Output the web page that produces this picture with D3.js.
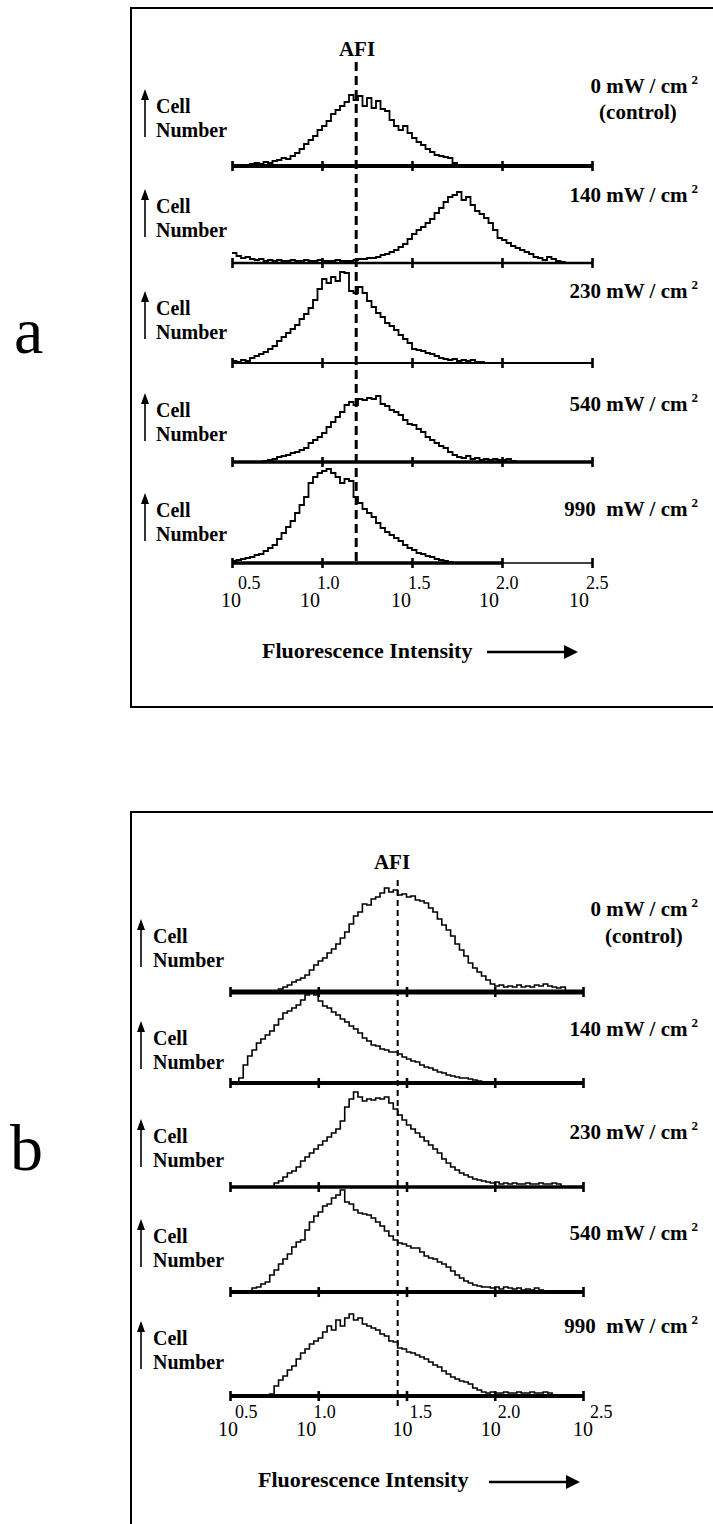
<!DOCTYPE html>
<html><head><meta charset="utf-8">
<script src="https://cdn.jsdelivr.net/npm/d3@7"></script>
<style>
body{margin:0;background:#fff;}
svg{display:block;}
text{font-family:"Liberation Serif","Times New Roman",serif;fill:#000;}
</style></head><body>
<svg id="chart" width="713" height="1524"></svg>
<script>
// ---------------- DATA ----------------
const tickValues = [0.5, 1.0, 1.5, 2.0, 2.5];
const tickLabels = ["0.5", "1.0", "1.5", "2.0", "2.5"];
const tickBase = "10";
const doseLabels = ["0 mW / cm", "140 mW / cm", "230 mW / cm", "540 mW / cm", "990  mW / cm"];
const doseUnitExp = "2";
const controlNote = "(control)";
const axisTitle = "Fluorescence Intensity";
const cellLabel = ["Cell", "Number"];
const afiLabel = "AFI";
const panelNames = ["a", "b"];
const binWidth = 0.025;          // log10 channel width
const afiA = 1.19;               // log10 AFI, panel a
const afiB = 1.45;               // log10 AFI, panel b

// panel a histograms: first channel (log10) + counts per channel
const a1Start = 0.5;
const a1 = [0,1,0,1,2,3,2,4,3,5,6,8,7,10,13,17,22,26,30,36,40,45,52,56,60,64,71,66,70,60,68,58,65,57,55,46,40,36,40,33,28,24,21,17,14,11,10,9,8,3,0];
const a2Start = 0.5;
const a2 = [10,7,5,6,4,3,4,2,3,2,3,2,2,3,2,2,3,2,2,3,2,2,2,3,2,2,2,3,4,4,5,5,6,8,9,11,13,16,19,24,29,33,36,40,44,50,55,61,66,68,71,63,66,58,52,49,45,40,33,25,23,20,17,15,13,11,9,6,5,3,6,4,2,1,0];
const a3Start = 0.5;
const a3 = [2,1,3,2,5,7,9,11,14,17,22,26,30,34,38,44,49,55,63,74,84,80,86,82,91,90,72,70,76,70,62,56,50,46,40,37,33,28,24,20,14,13,12,10,9,7,5,4,3,4,2,3,2,3,1,1,0];
const a4Start = 0.65;
const a4 = [0,1,2,3,5,6,7,9,10,12,14,19,22,25,29,35,40,45,50,57,60,57,63,62,64,63,66,58,56,52,50,47,42,38,37,33,30,25,22,19,16,14,10,7,5,4,6,3,4,2,3,2,3,2,2,3,1,0];
const a5Start = 0.5;
const a5 = [2,3,4,5,6,8,9,12,15,18,24,30,36,42,50,58,66,80,86,90,92,94,90,86,80,84,82,66,60,54,50,46,40,35,31,28,25,22,18,15,13,10,9,7,6,4,3,2,1,0];

// panel b histograms
const b1Start = 0.725;
const b1 = [0,1,3,5,7,10,12,14,17,22,27,31,34,39,43,48,54,60,68,76,80,88,87,93,95,99,104,100,102,97,98,95,96,92,91,89,84,80,73,67,62,56,48,42,36,29,24,20,16,12,8,6,7,5,6,5,7,5,6,5,7,6,8,6,5,4,5,0];
const b2Start = 0.525;
const b2 = [0,5,18,27,33,40,44,48,52,58,64,70,72,75,78,83,88,90,88,82,77,75,71,68,64,61,57,54,50,45,42,38,37,34,33,31,31,29,26,24,22,21,18,16,15,13,11,10,8,7,6,5,5,4,3,2,0];
const b3Start = 0.725;
const b3 = [0,4,6,10,14,16,20,26,30,34,38,42,46,50,54,58,66,80,88,95,90,86,88,87,89,88,90,84,78,72,67,62,58,54,50,46,42,38,34,28,24,20,17,14,12,10,8,7,6,5,4,5,3,4,3,4,3,3,4,3,3,4,3,3,4,3,0];
const b4Start = 0.6;
const b4 = [0,4,5,8,10,17,22,28,33,38,45,50,52,62,70,76,80,86,88,94,97,102,90,88,82,79,78,77,74,70,66,61,56,52,49,48,46,44,44,40,36,34,33,30,28,25,21,17,14,11,9,7,6,5,5,4,5,3,5,4,3,4,2,3,2,4,2,0];
const b5Start = 0.7;
const b5 = [0,2,10,16,20,26,30,37,43,47,52,55,58,64,70,66,76,70,78,82,76,78,72,70,68,66,62,60,55,54,48,47,44,43,41,39,37,34,31,29,25,22,19,17,15,14,12,8,6,4,3,4,3,3,4,3,3,4,3,3,4,3,3,4,3,0];

// ---------------- LAYOUT / STYLE ----------------
const layouts = [
  {
    name: panelNames[0], starts: [a1Start,a2Start,a3Start,a4Start,a5Start], series: [a1,a2,a3,a4,a5], afi: afiA,
    box: {x:131, y:8, h:699}, letter: {x:14, y:353},
    xRange: [232, 592], baselines: [166, 263, 363, 462, 563],
    axisW: [4, 2.6, 1.8, 3.6, 3.6], lastThinFrom: 2.0,
    doseY: [93, 202, 298, 411, 516], controlY: 119, controlX: 638, doseX: 698,
    cellY: [113, 213, 315, 417, 517], cellX: 156, arrowX: 145,
    afiY: 56, afiX: 357, dash: {y1: 62, y2: 565, w: 3, pat: "9,5"},
    tickY: 607, tickDx: [9, -2, -1, -3, -3],
    titleX: 262, titleY: 658, arrow: {x1: 487, x2: 578, y: 652},
    curveW: 1.8
  },
  {
    name: panelNames[1], starts: [b1Start,b2Start,b3Start,b4Start,b5Start], series: [b1,b2,b3,b4,b5], afi: afiB,
    box: {x:131, y:812, h:800}, letter: {x:10, y:1170},
    xRange: [230, 583], baselines: [992, 1083, 1187, 1292, 1396],
    axisW: [5, 4, 3.6, 4, 4], lastThinFrom: null,
    doseY: [916, 1036, 1139, 1240, 1333], controlY: 943, controlX: 644, doseX: 698,
    cellY: [943, 1045, 1143, 1243, 1345], cellX: 153, arrowX: 141,
    afiY: 869, afiX: 392, dash: {y1: 880, y2: 1407, w: 2, pat: "6,4"},
    tickY: 1436, tickDx: [8, -2, 6, 6, 10],
    titleX: 258, titleY: 1487, arrow: {x1: 489, x2: 580, y: 1482},
    curveW: 1.6
  }
];

const svg = d3.select("#chart");

layouts.forEach(L => {
  const g = svg.append("g");
  // frame
  g.append("rect").attr("x", L.box.x).attr("y", L.box.y)
    .attr("width", 700).attr("height", L.box.h)
    .attr("fill", "none").attr("stroke", "#000").attr("stroke-width", 2);
  // panel letter
  g.append("text").attr("x", L.letter.x).attr("y", L.letter.y)
    .attr("font-size", 66).text(L.name);

  const x = d3.scaleLinear().domain([tickValues[0], tickValues[tickValues.length-1]]).range(L.xRange);

  L.series.forEach((counts, i) => {
    const base = L.baselines[i];
    const y = d3.scaleLinear().domain([0, 100]).range([base, base - 100]);
    const pts = counts.map((c, k) => ({lx: L.starts[i] + k * binWidth, c}));

    // histogram trace
    const line = d3.line().x(d => x(d.lx)).y(d => y(d.c)).curve(d3.curveStepAfter);
    g.append("path").datum(pts).attr("d", line)
      .attr("fill", "none").attr("stroke", "#000")
      .attr("stroke-width", L.curveW).attr("stroke-linejoin", "miter");

    // axis
    const axis = d3.axisBottom(x).tickValues(tickValues).tickSize(0).tickFormat("");
    const ag = g.append("g").attr("transform", `translate(0,${base})`).call(axis);
    ag.select(".domain").remove();
    const thinFrom = (i === 4 && L.lastThinFrom) ? L.lastThinFrom : null;
    ag.append("line").attr("x1", x.range()[0]).attr("x2", thinFrom ? x(thinFrom) : x.range()[1])
      .attr("stroke", "#000").attr("stroke-width", L.axisW[i]);
    if (thinFrom) {
      ag.append("line").attr("x1", x(thinFrom)).attr("x2", x.range()[1])
        .attr("stroke", "#000").attr("stroke-width", 1.5);
    }
    ag.selectAll(".tick line").attr("y1", -5).attr("y2", 5)
      .attr("stroke", "#000").attr("stroke-width", 2.6);

    // dose label
    const t = g.append("text").attr("x", L.doseX).attr("y", L.doseY[i])
      .attr("text-anchor", "end").attr("font-weight", "bold").attr("font-size", 21)
      .style("white-space", "pre");
    t.append("tspan").text(doseLabels[i]);
    t.append("tspan").attr("dx", 4).attr("dy", -9).attr("font-size", 13).text(doseUnitExp);
    if (i === 0) {
      g.append("text").attr("x", L.controlX).attr("y", L.controlY)
        .attr("text-anchor", "middle").attr("font-weight", "bold").attr("font-size", 21)
        .text(controlNote);
    }

    // Cell Number with arrow
    const cy = L.cellY[i];
    g.append("text").attr("x", L.cellX).attr("y", cy).attr("font-weight", "bold").attr("font-size", 20).text(cellLabel[0]);
    g.append("text").attr("x", L.cellX).attr("y", cy + 24).attr("font-weight", "bold").attr("font-size", 20).text(cellLabel[1]);
    const top = cy - 24;
    g.append("line").attr("x1", L.arrowX).attr("x2", L.arrowX).attr("y1", top + 8).attr("y2", cy + 24)
      .attr("stroke", "#000").attr("stroke-width", 1.6);
    g.append("path").attr("d", `M${L.arrowX},${top} L${L.arrowX-4},${top+11} L${L.arrowX+4},${top+11} Z`).attr("fill", "#000");
  });

  // AFI line + label
  g.append("line").attr("x1", x(L.afi)).attr("x2", x(L.afi)).attr("y1", L.dash.y1).attr("y2", L.dash.y2)
    .attr("stroke", "#000").attr("stroke-width", L.dash.w).attr("stroke-dasharray", L.dash.pat);
  g.append("text").attr("x", L.afiX).attr("y", L.afiY).attr("text-anchor", "middle")
    .attr("font-weight", "bold").attr("font-size", 21).text(afiLabel);

  // tick labels 10^x
  tickValues.forEach((v, k) => {
    g.append("text").attr("x", x(v) + L.tickDx[k]).attr("y", L.tickY)
      .attr("text-anchor", "end").attr("font-size", 20).text(tickBase);
    g.append("text").attr("x", x(v) + L.tickDx[k] - 3).attr("y", L.tickY - 18)
      .attr("font-size", 18).text(tickLabels[k]);
  });

  // axis title + arrow
  g.append("text").attr("x", L.titleX).attr("y", L.titleY).attr("font-weight", "bold")
    .attr("font-size", 22).text(axisTitle);
  g.append("line").attr("x1", L.arrow.x1).attr("x2", L.arrow.x2 - 10).attr("y1", L.arrow.y).attr("y2", L.arrow.y)
    .attr("stroke", "#000").attr("stroke-width", 2.6);
  g.append("path").attr("d", `M${L.arrow.x2},${L.arrow.y} L${L.arrow.x2-14},${L.arrow.y-7} L${L.arrow.x2-14},${L.arrow.y+7} Z`)
    .attr("fill", "#000");
});
</script>
</body></html>
